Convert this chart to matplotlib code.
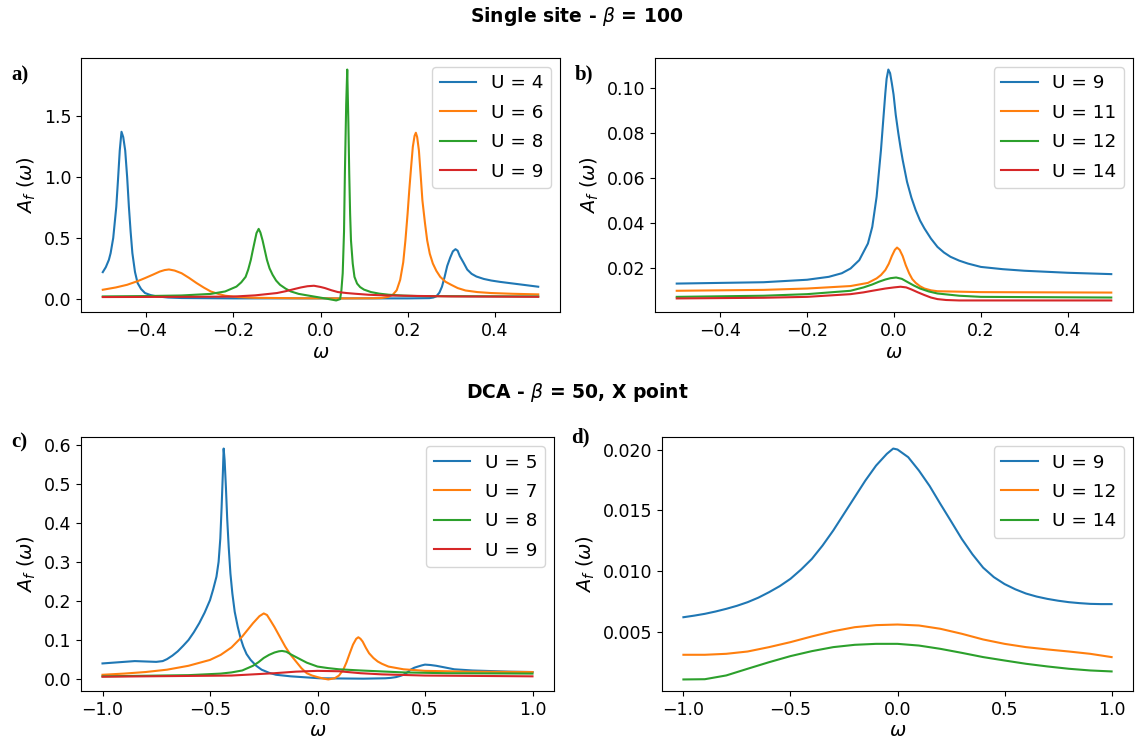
import matplotlib
matplotlib.use('Agg')
import matplotlib.pyplot as plt
from matplotlib.ticker import MultipleLocator

# ---- single site, beta = 100 (panel a) ----
w_a_U4 = [-0.5, -0.493, -0.486, -0.482, -0.476, -0.469, -0.465, -0.461, -0.457, -0.453, -0.4485,
          -0.444, -0.44, -0.436, -0.432, -0.426, -0.42, -0.412, -0.403, -0.39, -0.377, -0.35, -0.319,
          -0.2, 0.0, 0.2, 0.25, 0.259, 0.266, 0.273, 0.279, 0.285, 0.291, 0.298, 0.304, 0.31,
          0.315, 0.32, 0.328, 0.337, 0.347, 0.358, 0.375, 0.392, 0.412, 0.434, 0.465, 0.5]
A_a_U4 = [0.219, 0.26, 0.32, 0.375, 0.50, 0.756, 0.98, 1.22, 1.374, 1.33, 1.22,
          1.00, 0.756, 0.55, 0.375, 0.22, 0.129, 0.08, 0.047, 0.03, 0.02, 0.01, 0.006,
          0.003, 0.003, 0.003, 0.005, 0.01, 0.02, 0.05, 0.10, 0.18, 0.27, 0.34, 0.39, 0.408,
          0.395, 0.35, 0.30, 0.24, 0.205, 0.183, 0.163, 0.15, 0.139, 0.129, 0.115, 0.099]

w_a_U6 = [-0.5, -0.47, -0.444, -0.42, -0.403, -0.385, -0.369, -0.358, -0.348, -0.335, -0.319,
          -0.302, -0.285, -0.268, -0.252, -0.235, -0.219, -0.19, -0.152, -0.05,
          0.05, 0.12, 0.14, 0.155, 0.166, 0.175, 0.183, 0.19, 0.195, 0.2, 0.204, 0.208, 0.212,
          0.216, 0.219, 0.222, 0.226, 0.23, 0.234, 0.24, 0.245, 0.251, 0.258,
          0.266, 0.275, 0.287, 0.3, 0.315, 0.333, 0.36, 0.392, 0.44, 0.5]
A_a_U6 = [0.074, 0.093, 0.115, 0.145, 0.17, 0.198, 0.224, 0.236, 0.241, 0.232, 0.21,
          0.172, 0.13, 0.092, 0.06, 0.04, 0.025, 0.014, 0.008, 0.004,
          0.003, 0.004, 0.006, 0.015, 0.033, 0.07, 0.156, 0.30, 0.48, 0.70, 0.9, 1.08, 1.25,
          1.34, 1.366, 1.33, 1.22, 1.02, 0.81, 0.62, 0.48, 0.37, 0.29,
          0.23, 0.18, 0.14, 0.115, 0.088, 0.068, 0.055, 0.047, 0.041, 0.036]

w_a_U8 = [-0.5, -0.403, -0.319, -0.252, -0.219, -0.193, -0.182, -0.172, -0.166, -0.16, -0.156,
          -0.152, -0.147, -0.142, -0.138, -0.133, -0.128, -0.123, -0.117, -0.11, -0.102, -0.093,
          -0.08, -0.068, -0.05, -0.026, 0.015, 0.036, 0.045, 0.048, 0.051, 0.054, 0.056, 0.059,
          0.0614, 0.064, 0.066, 0.068, 0.07, 0.074, 0.078, 0.084, 0.091, 0.1, 0.116, 0.135, 0.157,
          0.19, 0.224, 0.5]
A_a_U8 = [0.019, 0.022, 0.027, 0.04, 0.06, 0.10, 0.135, 0.18, 0.24, 0.32, 0.39,
          0.457, 0.54, 0.575, 0.545, 0.48, 0.40, 0.32, 0.25, 0.197, 0.15, 0.115,
          0.083, 0.06, 0.04, 0.025, 0.0, -0.014, -0.003, 0.07, 0.21, 0.55, 1.03, 1.60,
          1.886, 1.45, 1.03, 0.70, 0.48, 0.29, 0.18, 0.125, 0.096, 0.075, 0.055, 0.042, 0.033,
          0.026, 0.022, 0.019]

w_a_U9 = [-0.5, -0.3, -0.2, -0.15, -0.1, -0.08, -0.06, -0.045, -0.03, -0.015, 0.0, 0.01, 0.025,
          0.04, 0.06, 0.08, 0.11, 0.15, 0.3, 0.5]
A_a_U9 = [0.014, 0.016, 0.018, 0.028, 0.047, 0.062, 0.08, 0.093, 0.103, 0.107, 0.097, 0.088, 0.07,
          0.055, 0.047, 0.041, 0.033, 0.027, 0.019, 0.016]

# ---- single site, beta = 100 (panel b) ----
w_b = [-0.5, -0.4, -0.3, -0.2, -0.15, -0.12, -0.1, -0.08, -0.06, -0.05, -0.04, -0.03, -0.025,
       -0.02, -0.017, -0.013, -0.009, -0.005, -0.001, 0.004, 0.01, 0.015, 0.02, 0.03, 0.04, 0.05,
       0.06, 0.07, 0.085, 0.1, 0.115, 0.13, 0.15, 0.17, 0.2, 0.25, 0.3, 0.4, 0.5]
A_b_U9 = [0.0130, 0.0133, 0.0136, 0.0147, 0.0160, 0.0176, 0.0197, 0.0234, 0.0308, 0.0382, 0.0516,
          0.0723, 0.0850, 0.0975, 0.1040, 0.1081, 0.1065, 0.1020, 0.0970, 0.0880, 0.0797, 0.0735,
          0.0679, 0.0582, 0.0512, 0.0456, 0.0410, 0.0375, 0.0330, 0.0293, 0.0268, 0.0249, 0.0232,
          0.0219, 0.0204, 0.0194, 0.0187, 0.0178, 0.0172]

w_b_U11 = [-0.5, -0.3, -0.2, -0.1, -0.06, -0.04, -0.03, -0.02, -0.012, -0.005, 0.002, 0.007,
           0.013, 0.02, 0.027, 0.035, 0.042, 0.05, 0.06, 0.07, 0.085, 0.1, 0.2, 0.5]
A_b_U11 = [0.0098, 0.0102, 0.0108, 0.0119, 0.0133, 0.0153, 0.0168, 0.0190, 0.0218, 0.0252, 0.0280,
           0.0290, 0.0280, 0.0252, 0.0212, 0.0175, 0.0150, 0.0133, 0.0118, 0.0108, 0.0100, 0.0096,
           0.0092, 0.0090]

w_b_U12 = [-0.5, -0.3, -0.2, -0.1, -0.07, -0.05, -0.035, -0.02, -0.008, 0.005, 0.018, 0.03, 0.045,
           0.06, 0.08, 0.1, 0.15, 0.2, 0.5]
A_b_U12 = [0.0071, 0.0076, 0.0083, 0.0098, 0.0113, 0.0126, 0.0138, 0.0148, 0.0154, 0.0157, 0.0151,
           0.0138, 0.0122, 0.0108, 0.0095, 0.0086, 0.0076, 0.0071, 0.0068]

w_b_U14 = [-0.5, -0.3, -0.2, -0.1, -0.07, -0.05, -0.02, 0.0, 0.015, 0.028, 0.04, 0.055, 0.07, 0.085,
           0.1, 0.12, 0.15, 0.5]
A_b_U14 = [0.0064, 0.0067, 0.0071, 0.0083, 0.0091, 0.0098, 0.0108, 0.0113, 0.0116, 0.0113, 0.0104,
           0.0091, 0.0079, 0.0068, 0.0061, 0.0057, 0.0055, 0.0055]

# ---- DCA, beta = 50, X point (panel c) ----
w_c_U5 = [-1.0, -0.9, -0.85, -0.8, -0.75, -0.72, -0.7, -0.675, -0.65, -0.625, -0.6, -0.575,
          -0.55, -0.525, -0.5, -0.485, -0.47, -0.46, -0.452, -0.446, -0.44, -0.4365,
          -0.432, -0.426, -0.42, -0.413, -0.405, -0.396, -0.385, -0.371, -0.358, -0.345, -0.33,
          -0.311, -0.285, -0.26, -0.225, -0.193, -0.125, 0.01, 0.213, 0.315, 0.34, 0.365, 0.385,
          0.4, 0.42, 0.433, 0.45, 0.467, 0.485, 0.5, 0.525, 0.552, 0.59, 0.636, 0.72, 0.89, 1.0]
A_c_U5 = [0.040, 0.044, 0.046, 0.045, 0.044, 0.046, 0.051, 0.060, 0.071, 0.085, 0.100, 0.120,
          0.143, 0.170, 0.202, 0.230, 0.262, 0.300, 0.360, 0.440, 0.530, 0.590,
          0.560, 0.491, 0.410, 0.338, 0.270, 0.219, 0.172, 0.134, 0.105, 0.083, 0.064,
          0.049, 0.034, 0.024, 0.016, 0.011, 0.007, 0.002, 0.001, 0.002, 0.003, 0.005, 0.008,
          0.011, 0.018, 0.024, 0.029, 0.032, 0.035, 0.037, 0.036, 0.034, 0.030, 0.025, 0.022, 0.019,
          0.018]

w_c_U7 = [-1.0, -0.9, -0.8, -0.7, -0.6, -0.5, -0.45, -0.4, -0.35, -0.3, -0.27, -0.25, -0.235, -0.22,
          -0.2, -0.18, -0.15, -0.125, -0.1, -0.075, -0.05, -0.025, 0.0, 0.03, 0.05, 0.08, 0.1, 0.12,
          0.135, 0.15, 0.165, 0.18, 0.19, 0.2, 0.21, 0.225, 0.24, 0.26, 0.28, 0.3, 0.33,
          0.4, 0.5, 0.7, 1.0]
A_c_U7 = [0.011, 0.014, 0.018, 0.024, 0.034, 0.049, 0.062, 0.081, 0.109, 0.143, 0.161, 0.168, 0.164,
          0.151, 0.133, 0.113, 0.083, 0.062, 0.045, 0.028, 0.015, 0.009, 0.005, 0.001, -0.001, 0.002,
          0.009, 0.024, 0.043, 0.066, 0.088, 0.103, 0.107, 0.103, 0.096, 0.080, 0.066, 0.054, 0.045,
          0.039, 0.032, 0.025, 0.021, 0.019, 0.018]

w_c_U8 = [-1.0, -0.6, -0.45, -0.4, -0.35, -0.3, -0.275, -0.25, -0.225, -0.2, -0.18, -0.165, -0.145,
          -0.12, -0.085, -0.05, -0.02, 0.0, 0.05, 0.1, 0.2, 0.4, 0.6, 1.0]
A_c_U8 = [0.007, 0.010, 0.014, 0.017, 0.022, 0.034, 0.043, 0.054, 0.062, 0.068, 0.071, 0.072, 0.070,
          0.062, 0.052, 0.042, 0.036, 0.032, 0.028, 0.025, 0.022, 0.017, 0.015, 0.014]

w_c_U9 = [-1.0, -0.6, -0.4, -0.3, -0.2, -0.1, 0.0, 0.1, 0.2, 0.3, 0.5, 1.0]
A_c_U9 = [0.006, 0.008, 0.009, 0.012, 0.015, 0.019, 0.021, 0.020, 0.015, 0.012, 0.009, 0.007]

# ---- DCA, beta = 50, X point (panel d) ----
w_d_U9 = [-1.0, -0.95, -0.9, -0.85, -0.8, -0.75, -0.7, -0.65, -0.6, -0.55, -0.5, -0.45, -0.4,
          -0.35, -0.3, -0.25, -0.2, -0.15, -0.1, -0.05, -0.02, 0.0, 0.05, 0.1, 0.15, 0.2, 0.25,
          0.3, 0.35, 0.4, 0.45, 0.5, 0.55, 0.6, 0.65, 0.7, 0.75, 0.8, 0.85, 0.9, 0.95, 1.0]
A_d_U9 = [0.00620, 0.00633, 0.00648, 0.00667, 0.00689, 0.00714, 0.00744, 0.00781, 0.00826, 0.00876,
          0.00936, 0.01013, 0.01100, 0.01210, 0.01334, 0.01471, 0.01608, 0.01745, 0.01868, 0.01964,
          0.02008, 0.02000, 0.01937, 0.01827, 0.01700, 0.01553, 0.01410, 0.01265, 0.01138, 0.01028,
          0.00950, 0.00893, 0.00850, 0.00815, 0.00790, 0.00771, 0.00756, 0.00744, 0.00736, 0.00730,
          0.00728, 0.00728]

w_d = [-1.0, -0.9, -0.8, -0.7, -0.6, -0.5, -0.4, -0.3, -0.2, -0.1, 0.0, 0.1, 0.2, 0.3, 0.4,
       0.5, 0.6, 0.7, 0.8, 0.9, 1.0]
A_d_U12 = [0.00311, 0.00311, 0.00319, 0.00338, 0.00374, 0.00415, 0.00462, 0.00505, 0.00538, 0.00555,
           0.00560, 0.00552, 0.00525, 0.00484, 0.00437, 0.00401, 0.00374, 0.00355, 0.00338, 0.00319,
           0.00292]
A_d_U14 = [0.00108, 0.00110, 0.00141, 0.00196, 0.00250, 0.00300, 0.00341, 0.00374, 0.00393, 0.00401,
           0.00401, 0.00387, 0.00360, 0.00327, 0.00292, 0.00264, 0.00237, 0.00215, 0.00196, 0.00182,
           0.00174]

panels = {
    'a': [('U = 4', w_a_U4, A_a_U4), ('U = 6', w_a_U6, A_a_U6),
          ('U = 8', w_a_U8, A_a_U8), ('U = 9', w_a_U9, A_a_U9)],
    'b': [('U = 9', w_b, A_b_U9), ('U = 11', w_b_U11, A_b_U11),
          ('U = 12', w_b_U12, A_b_U12), ('U = 14', w_b_U14, A_b_U14)],
    'c': [('U = 5', w_c_U5, A_c_U5), ('U = 7', w_c_U7, A_c_U7),
          ('U = 8', w_c_U8, A_c_U8), ('U = 9', w_c_U9, A_c_U9)],
    'd': [('U = 9', w_d_U9, A_d_U9), ('U = 12', w_d, A_d_U12), ('U = 14', w_d, A_d_U14)],
}

W, H = 1135, 745
# axes boxes in pixels: left, top, right, bottom
boxes = {
    'a': (81, 58, 560, 312),
    'b': (655, 58, 1133, 312),
    'c': (81, 437, 554, 691),
    'd': (662, 437, 1133, 691),
}
letter_pos = {'a': (11, 75), 'b': (575, 74), 'c': (11, 442), 'd': (571, 437)}
x_step = {'a': 0.2, 'b': 0.2, 'c': 0.5, 'd': 0.5}

plt.rcParams['font.size'] = 12.5
fig = plt.figure(figsize=(W / 100, H / 100), dpi=100)

for key, curves in panels.items():
    l, t, r, b = boxes[key]
    ax = fig.add_axes([l / W, 1 - b / H, (r - l) / W, (b - t) / H])
    for label, w, A in curves:
        ax.plot(w, A, label=label, lw=1.5)
    ax.xaxis.set_major_locator(MultipleLocator(x_step[key]))
    ax.set_xlabel(r'$\omega$', fontsize=14, labelpad=2)
    ax.set_ylabel(r'$A_f\ (\omega)$', fontsize=14)
    ax.legend(loc='upper right', fontsize=13.2, labelspacing=0.62)
    x, y = letter_pos[key]
    fig.text(x / W, 1 - y / H, key + ')', family='Liberation Serif', weight='bold',
             fontsize=15, va='center', ha='left')

fig.text(577 / W, 1 - 16 / H, r'Single site - $\beta$ = 100', weight='bold',
         fontsize=13.5, ha='center', va='center')
fig.text(577 / W, 1 - 393 / H, r'DCA - $\beta$ = 50, X point', weight='bold',
         fontsize=13.5, ha='center', va='center')

fig.savefig('out.png', dpi=100)
